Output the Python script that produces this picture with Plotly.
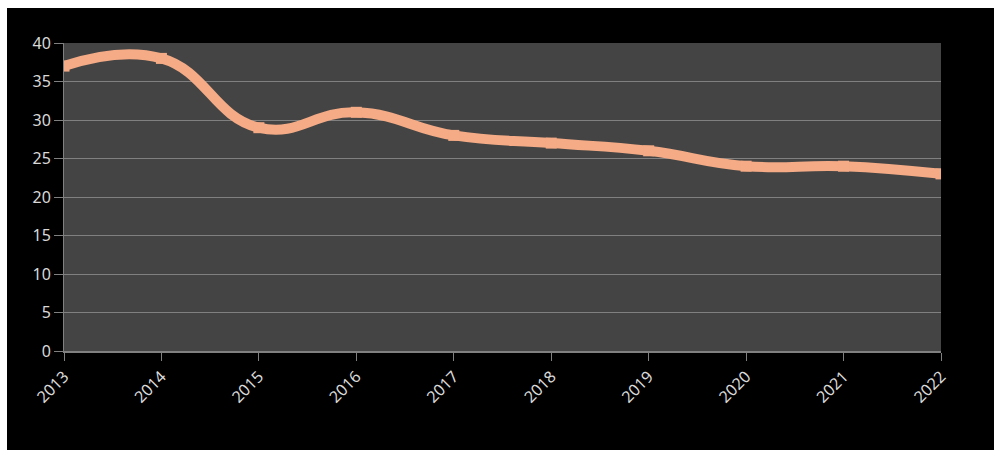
import plotly.graph_objects as go

years = [2013, 2014, 2015, 2016, 2017, 2018, 2019, 2020, 2021, 2022]
values = [37, 38, 29, 31, 28, 27, 26, 24, 24, 23]
y_ticks = [0, 5, 10, 15, 20, 25, 30, 35, 40]

W, H = 994, 450
L, R, T, B = 64, 53, 43, 99
pw, ph = W - L - R, H - T - B

line_color = "#F4AB86"
text_color = "#D9D9D9"
grid_color = "#808080"

fig = go.Figure()
fig.add_trace(go.Scatter(
    x=years, y=values, mode="lines+markers",
    line=dict(color=line_color, width=10, shape="spline", smoothing=1.3),
    marker=dict(symbol="square", size=11, color=line_color),
    hoverinfo="x+y", showlegend=False,
))

def px_to_paper_x(px):
    return (px - L) / pw

def px_to_paper_y(py):
    return (H - B - py) / ph

shapes = [
    dict(type="rect", xref="paper", yref="paper", layer="above",
         x0=px_to_paper_x(0), x1=px_to_paper_x(W), y0=px_to_paper_y(8), y1=px_to_paper_y(0),
         fillcolor="white", line=dict(width=0)),
    dict(type="rect", xref="paper", yref="paper", layer="above",
         x0=px_to_paper_x(0), x1=px_to_paper_x(7), y0=px_to_paper_y(H), y1=px_to_paper_y(0),
         fillcolor="white", line=dict(width=0)),
]

fig.update_layout(
    width=W, height=H,
    margin=dict(l=L, r=R, t=T, b=B, pad=0),
    paper_bgcolor="black",
    plot_bgcolor="#444444",
    font=dict(family="Noto Sans, Open Sans, sans-serif", size=16, color=text_color),
    shapes=shapes,
    xaxis=dict(
        range=[2013, 2022], tickmode="array", tickvals=years,
        ticktext=[str(y) for y in years], tickangle=-45,
        showgrid=False, zeroline=False,
        showline=True, linecolor=grid_color, linewidth=2,
        ticks="outside", ticklen=8, tickcolor=grid_color, tickwidth=1,
        tickfont=dict(size=16, color=text_color),
    ),
    yaxis=dict(
        range=[0, 40], tickmode="array", tickvals=y_ticks,
        showgrid=True, gridcolor=grid_color, gridwidth=1,
        zeroline=False,
        showline=True, linecolor=grid_color, linewidth=1,
        ticks="outside", ticklen=9, tickcolor=grid_color, tickwidth=1,
        tickfont=dict(size=16, color=text_color),
    ),
)

fig.write_html("out.html")
